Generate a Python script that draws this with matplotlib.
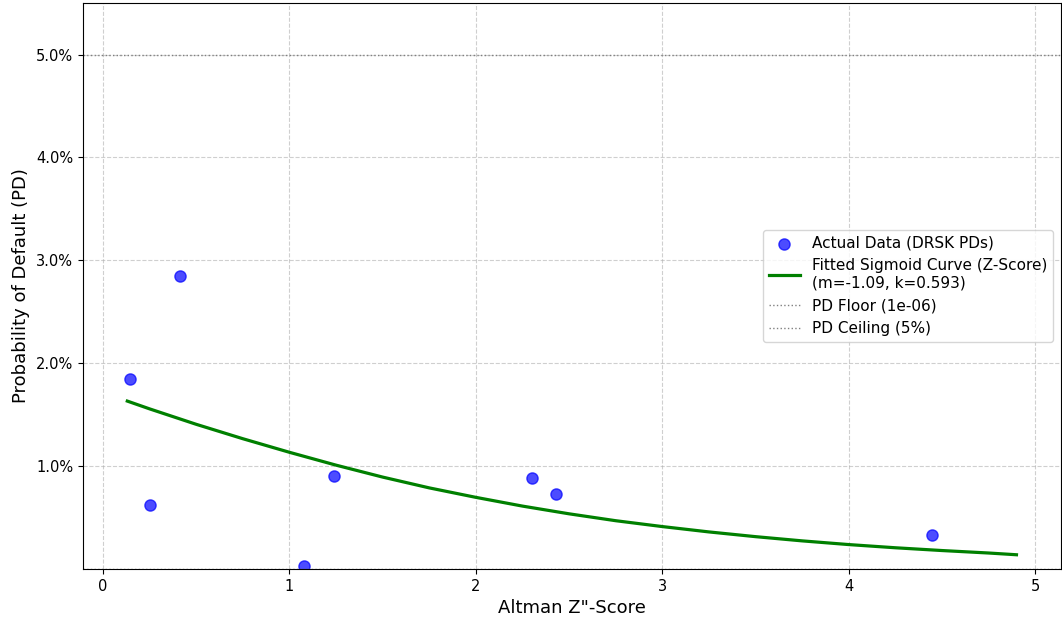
import numpy as np
import matplotlib.pyplot as plt
from matplotlib.ticker import PercentFormatter

# observed data (Z-score, PD)
z_scores = [0.145, 0.252, 0.413, 1.077, 1.238, 2.299, 2.428, 4.448]
pds = [0.0185, 0.0062, 0.0285, 0.0003, 0.0090, 0.0088, 0.0073, 0.0033]

# fitted curve
curve_z = [0.13, 0.25, 0.5, 0.75, 1.0, 1.25, 1.5, 1.75, 2.0, 2.25, 2.5,
           2.75, 3.0, 3.25, 3.5, 3.75, 4.0, 4.25, 4.5, 4.75, 4.9]
curve_pd = [0.01631, 0.01555, 0.01405, 0.01265, 0.01133, 0.01008, 0.00892,
            0.00787, 0.00695, 0.00610, 0.00535, 0.00468, 0.00411, 0.00359,
            0.00313, 0.00272, 0.00236, 0.00205, 0.00178, 0.00154, 0.00137]

pd_floor = 1e-06
pd_ceiling = 0.05

fig, ax = plt.subplots(figsize=(10.62, 6.21), dpi=100)

ax.scatter(z_scores, pds, color="blue", alpha=0.7, s=65, label="Actual Data (DRSK PDs)")
ax.plot(curve_z, curve_pd, color="green", linewidth=2.3,
        label="Fitted Sigmoid Curve (Z-Score)\n(m=-1.09, k=0.593)")
ax.axhline(pd_floor, color="gray", linestyle=":", linewidth=1, label="PD Floor (1e-06)")
ax.axhline(pd_ceiling, color="gray", linestyle=":", linewidth=1, label="PD Ceiling (5%)")

ax.set_ylim(pd_floor, pd_ceiling * 1.1)
ax.yaxis.set_major_formatter(PercentFormatter(1.0, decimals=1))
ax.tick_params(labelsize=10.5)

ax.set_xlabel("Altman Z\"-Score", fontsize=13)
ax.set_ylabel("Probability of Default (PD)", fontsize=13)

ax.grid(True, linestyle="--", alpha=0.6)
ax.legend(loc="center right", fontsize=11)

plt.subplots_adjust(left=0.078, right=0.999, top=0.995, bottom=0.084)
plt.savefig("out.png", dpi=100)
